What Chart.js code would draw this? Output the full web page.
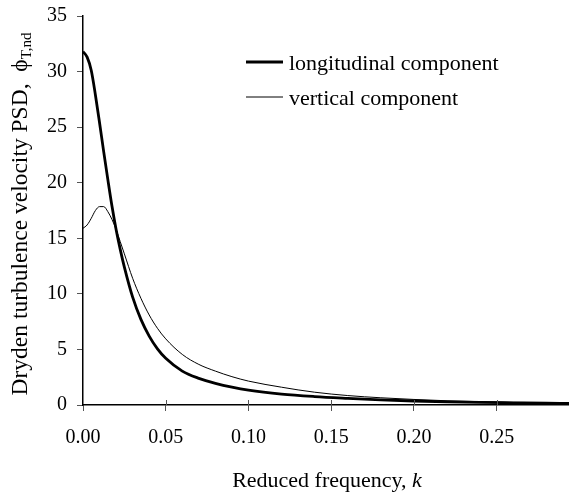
<!DOCTYPE html>
<html>
<head>
<meta charset="utf-8">
<script src="https://cdn.jsdelivr.net/npm/chart.js@4.4.1/dist/chart.umd.min.js"></script>
<style>
  html, body { margin: 0; padding: 0; background: #fff; }
  #wrap { width: 569px; height: 493px; position: relative; }
</style>
</head>
<body>
<div id="wrap"><canvas id="c" width="569" height="493"></canvas></div>
<script>
// ---- data ----
const kValues = [0, 0.0025, 0.005, 0.0075, 0.01, 0.0125, 0.015, 0.0175, 0.02, 0.0225, 0.025, 0.03, 0.035, 0.04, 0.045, 0.05, 0.06, 0.07, 0.08, 0.09, 0.10, 0.12, 0.14, 0.16, 0.18, 0.20, 0.22, 0.24, 0.26, 0.28, 0.2937];
const longitudinal = [31.8, 31.3, 30.1, 27.9, 25.4, 22.8, 20.3, 17.9, 15.8, 14.0, 12.4, 9.7, 7.7, 6.2, 5.05, 4.2, 3.05, 2.4, 1.95, 1.6, 1.33, 0.98, 0.76, 0.6, 0.46, 0.36, 0.29, 0.24, 0.2, 0.16, 0.14];
const vertical = [15.9, 16.2, 16.8, 17.5, 17.85, 17.85, 17.4, 16.7, 15.8, 14.7, 13.6, 11.4, 9.6, 8.1, 6.9, 5.95, 4.55, 3.65, 3.05, 2.55, 2.15, 1.6, 1.15, 0.85, 0.65, 0.5, 0.38, 0.3, 0.24, 0.2, 0.17];
const xTicks = [0, 0.05, 0.10, 0.15, 0.20, 0.25];
const yTicks = [0, 5, 10, 15, 20, 25, 30, 35];
const seriesLabels = ['longitudinal component', 'vertical component'];
const xTitle = 'Reduced frequency, ';
const xTitleVar = 'k';
const yTitle = 'Dryden turbulence velocity PSD,  ';
const yTitleSym = '\u03D5';
const yTitleSub = 'T,nd';

const FONT = '"Liberation Serif", "Times New Roman", serif';

const toPts = (ys) => kValues.map((k, i) => ({ x: k, y: ys[i] }));

const titlesPlugin = {
  id: 'titles',
  afterDraw(chart) {
    const ctx = chart.ctx;
    const xs = chart.scales.x, ys = chart.scales.y;
    ctx.save();
    // inner halves of x tick marks
    ctx.strokeStyle = '#555';
    ctx.lineWidth = 1;
    xTicks.forEach(v => {
      if (v === 0) return;
      const px = Math.round(xs.getPixelForValue(v)) + 0.5;
      ctx.beginPath();
      ctx.moveTo(px, ys.bottom - 5);
      ctx.lineTo(px, ys.bottom);
      ctx.stroke();
    });
    // x title
    ctx.fillStyle = '#000';
    ctx.textBaseline = 'alphabetic';
    ctx.font = '22px ' + FONT;
    const w1 = ctx.measureText(xTitle).width;
    ctx.font = 'italic 22px ' + FONT;
    const w2 = ctx.measureText(xTitleVar).width;
    let sx = 327 - (w1 + w2) / 2;
    ctx.font = '22px ' + FONT;
    ctx.textAlign = 'left';
    ctx.fillText(xTitle, sx, 487);
    ctx.font = 'italic 22px ' + FONT;
    ctx.fillText(xTitleVar, sx + w1, 487);
    // y title (rotated)
    ctx.translate(27, 214);
    ctx.rotate(-Math.PI / 2);
    ctx.font = '23.5px ' + FONT;
    const a = ctx.measureText(yTitle).width;
    const b = ctx.measureText(yTitleSym).width;
    ctx.font = '15px ' + FONT;
    const c = ctx.measureText(yTitleSub).width;
    let start = -(a + b + c) / 2;
    ctx.font = '23.5px ' + FONT;
    ctx.fillText(yTitle, start, 0);
    ctx.fillText(yTitleSym, start + a, 0);
    ctx.font = '15px ' + FONT;
    ctx.fillText(yTitleSub, start + a + b, 4);
    ctx.restore();

    // legend
    ctx.save();
    const rows = [70, 105];
    chart.data.datasets.forEach((ds, i) => {
      const yLine = rows[i] - 8;
      ctx.strokeStyle = ds.borderColor;
      ctx.lineWidth = ds.borderWidth;
      ctx.beginPath();
      ctx.moveTo(246, yLine);
      ctx.lineTo(283, yLine);
      ctx.stroke();
      ctx.fillStyle = '#000';
      ctx.font = '22px ' + FONT;
      ctx.textAlign = 'left';
      ctx.textBaseline = 'alphabetic';
      ctx.fillText(ds.label, 289, rows[i]);
    });
    ctx.restore();
  }
};

new Chart(document.getElementById('c'), {
  type: 'scatter',
  data: {
    datasets: [
      { label: seriesLabels[0], data: toPts(longitudinal), showLine: true, borderColor: '#000', borderWidth: 2.8, pointRadius: 0, cubicInterpolationMode: 'monotone', fill: false },
      { label: seriesLabels[1], data: toPts(vertical), showLine: true, borderColor: '#000', borderWidth: 1, pointRadius: 0, cubicInterpolationMode: 'monotone', fill: false }
    ]
  },
  options: {
    responsive: false,
    animation: false,
    devicePixelRatio: 1,
    layout: { padding: { top: 16, right: 0, left: 0, bottom: 0 } },
    plugins: { legend: { display: false }, tooltip: { enabled: false } },
    scales: {
      x: {
        type: 'linear', min: 0, max: 0.2937,
        afterFit(s) { s.height = 88; s.paddingLeft = 0; s.paddingRight = 0; },
        afterBuildTicks(s) { s.ticks = xTicks.map(v => ({ value: v })); },
        grid: { display: true, drawOnChartArea: false, drawTicks: true, tickLength: 6, color: '#555' },
        border: { display: true, color: '#000', width: 1.5 },
        ticks: { color: '#000', font: { family: FONT, size: 20 }, padding: 15, maxRotation: 0, autoSkip: false, callback: v => Number(v).toFixed(2) }
      },
      y: {
        type: 'linear', min: 0, max: 35,
        afterFit(s) { s.width = 83; s.paddingTop = 0; s.paddingBottom = 0; },
        afterBuildTicks(s) { s.ticks = yTicks.map(v => ({ value: v })); },
        grid: { display: true, drawOnChartArea: false, drawTicks: true, tickLength: 6, color: '#555' },
        border: { display: true, color: '#000', width: 1.5 },
        ticks: { color: '#000', font: { family: FONT, size: 20 }, padding: 10, autoSkip: false, callback: v => String(v) }
      }
    }
  },
  plugins: [titlesPlugin]
});
</script>
</body>
</html>
